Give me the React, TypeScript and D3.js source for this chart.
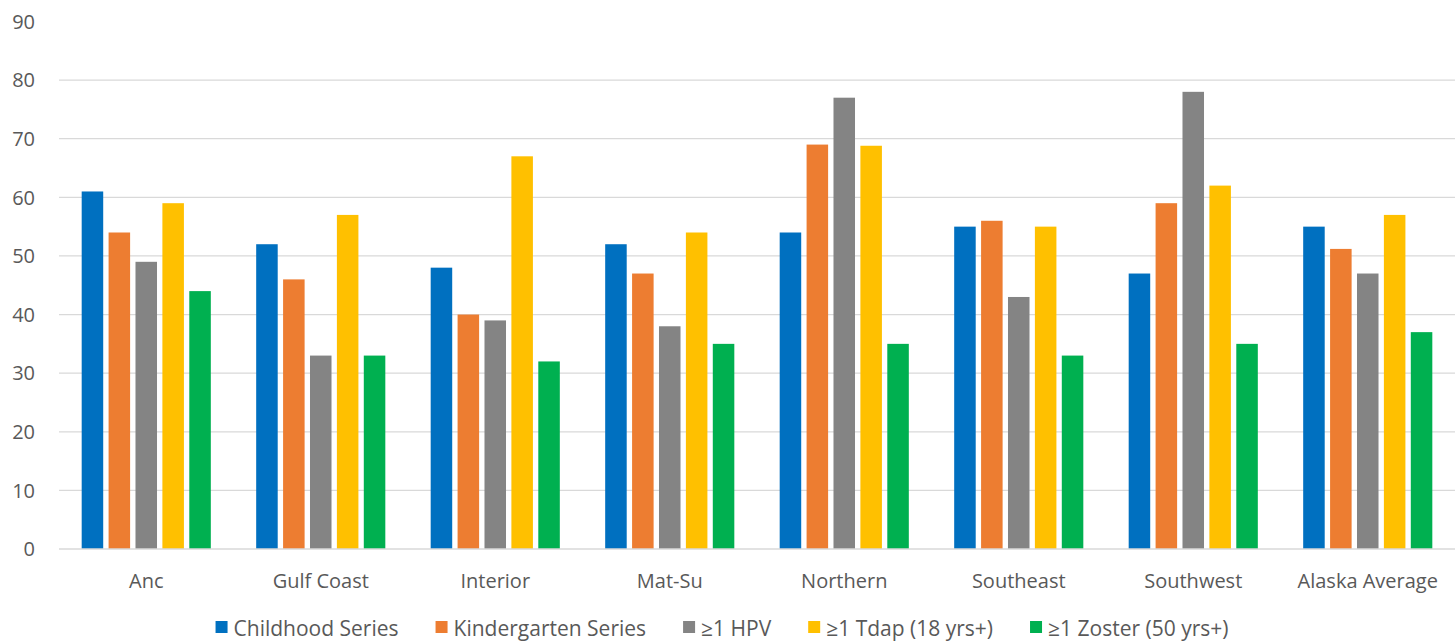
import React, { useEffect, useRef } from "react";
import * as d3 from "d3";

const categories = ["Anc", "Gulf Coast", "Interior", "Mat-Su", "Northern", "Southeast", "Southwest", "Alaska Average"];
const seriesNames = ["Childhood Series", "Kindergarten Series", "≥1 HPV", "≥1 Tdap (18 yrs+)", "≥1 Zoster (50 yrs+)"];
const childhood = [61, 52, 48, 52, 54, 55, 47, 55];
const kindergarten = [54, 46, 40, 47, 69, 56, 59, 51.2];
const hpv = [49, 33, 39, 38, 77, 43, 78, 47];
const tdap = [59, 57, 67, 54, 68.8, 55, 62, 57];
const zoster = [44, 33, 32, 35, 35, 33, 35, 37];
const yTicks = [0, 10, 20, 30, 40, 50, 60, 70, 80, 90];
const colors = ["#0070C0", "#ED7D31", "#848484", "#FFC000", "#00B050"];

const W = 1455, H = 641;
const FONT = "'Open Sans', 'Noto Sans', sans-serif";

export default function App() {
  const ref = useRef<SVGSVGElement>(null);
  useEffect(() => {
    const svg = d3.select(ref.current);
    svg.selectAll("*").remove();
    const values = [childhood, kindergarten, hpv, tdap, zoster];
    const x0 = d3.scaleBand().domain(categories).range([59, 1455]).paddingInner(0.26).paddingOuter(0.13);
    const x1 = d3.scaleBand().domain(seriesNames).range([0, x0.bandwidth()]).paddingInner(0.2).paddingOuter(0);
    const y = d3.scaleLinear().domain([0, 90]).range([549, 21.5]);

    const g = svg.append("g");
    // gridlines (none at the top tick)
    g.selectAll("line.grid").data(yTicks.filter(t => t > 0 && t < 90)).enter().append("line")
      .attr("x1", 59).attr("x2", 1455)
      .attr("y1", d => y(d)).attr("y2", d => y(d))
      .attr("stroke", "#d9d9d9").attr("stroke-width", 1.3);
    g.selectAll("text.ytick").data(yTicks).enter().append("text")
      .attr("x", 35).attr("y", d => y(d)).attr("dy", "0.36em")
      .attr("text-anchor", "end").attr("font-family", FONT).attr("font-size", 20)
      .attr("fill", "#595959").text(d => d);

    // bars
    categories.forEach((c, ci) => {
      seriesNames.forEach((s, si) => {
        g.append("rect")
          .attr("x", (x0(c) as number) + (x1(s) as number))
          .attr("y", y(values[si][ci]))
          .attr("width", x1.bandwidth())
          .attr("height", y(0) - y(values[si][ci]))
          .attr("fill", colors[si]);
      });
    });

    // baseline
    g.append("line").attr("x1", 59).attr("x2", 1455).attr("y1", y(0)).attr("y2", y(0))
      .attr("stroke", "#d9d9d9").attr("stroke-width", 1.3);

    // category labels
    g.selectAll("text.cat").data(categories).enter().append("text")
      .attr("x", d => (x0(d) as number) + x0.bandwidth() / 2).attr("y", 588)
      .attr("text-anchor", "middle").attr("font-family", FONT).attr("font-size", 20)
      .attr("fill", "#595959").text(d => d);

    // legend
    const lg = svg.append("g");
    const items = seriesNames.map((s, i) => {
      const t = lg.append("text").attr("y", 636).attr("font-family", FONT).attr("font-size", 21)
        .attr("fill", "#595959").text(s);
      const w = (t.node() as SVGTextElement).getComputedTextLength();
      return { t, w, i };
    });
    const sq = 12, gapSq = 6, gapItem = 37;
    const total = d3.sum(items, d => sq + gapSq + d.w) + gapItem * (items.length - 1);
    let cx = 722 - total / 2;
    items.forEach(it => {
      lg.append("rect").attr("x", cx).attr("y", 621).attr("width", sq).attr("height", sq).attr("fill", colors[it.i]);
      it.t.attr("x", cx + sq + gapSq);
      cx += sq + gapSq + it.w + gapItem;
    });
  }, []);
  return <svg ref={ref} width={W} height={H} style={{ display: "block", position: "absolute", left: 0, top: 0, background: "#fff" }} />;
}
